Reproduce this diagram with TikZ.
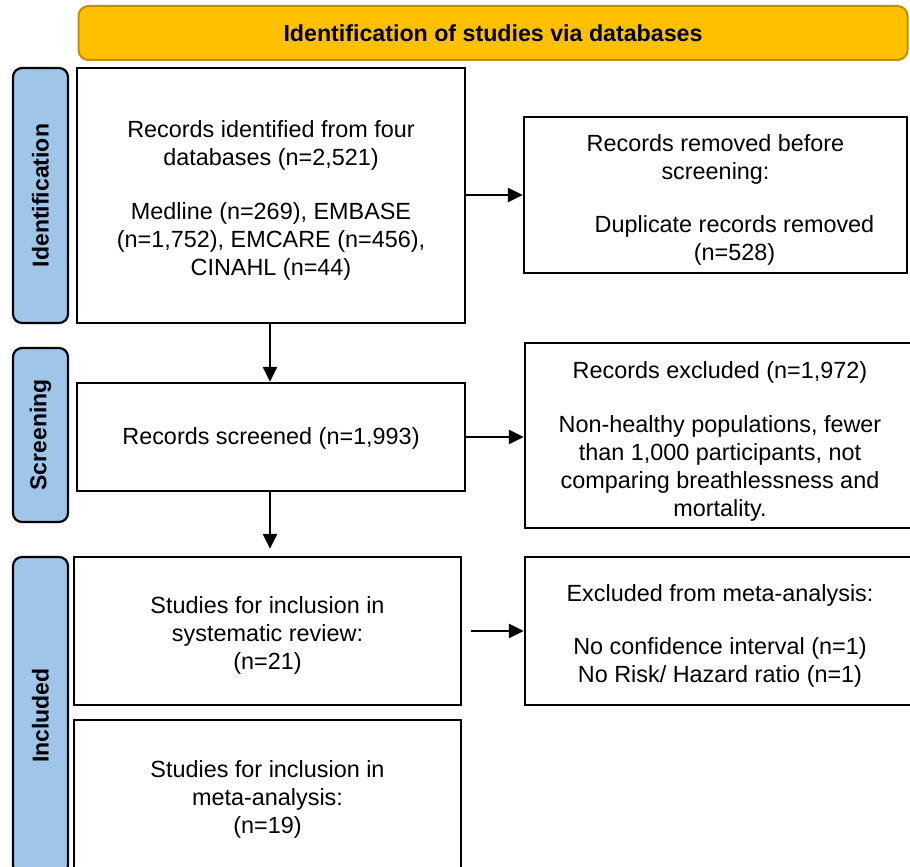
\documentclass[tikz,border=0pt]{standalone}
\usepackage{fontspec}
\setmainfont{Liberation Sans}
\usetikzlibrary{arrows.meta}
\definecolor{bannerfill}{HTML}{FFC000}
\definecolor{bannerline}{HTML}{BF8F00}
\definecolor{sidefill}{HTML}{9FC5E8}
\tikzset{
  box/.style={draw=black, line width=2.4pt, fill=white, inner sep=0pt},
  txt/.style={align=center, inner sep=0pt, font=\fontsize{23.4}{28}\selectfont},
  side/.style={draw=black, line width=2.2pt, fill=sidefill, rounded corners=9pt, rotate=90,
    inner sep=0pt, font=\bfseries\fontsize{23}{28}\selectfont},
  banner/.style={draw=bannerline, line width=2pt, fill=bannerfill, rounded corners=10pt,
    inner sep=0pt, font=\bfseries\fontsize{23.2}{28}\selectfont},
  flow/.style={line width=2.6pt, -{Triangle[length=15pt,width=14pt]}}
}
\begin{document}
\begin{tikzpicture}[x=1pt,y=-1pt]
\useasboundingbox (0,0) rectangle (910,867);
\clip (0,0) rectangle (910,867);
\fill[white] (0,0) rectangle (910,867);
% banner
\node[banner, minimum width=829pt, minimum height=54pt] (ban) at (493,33) {Identification of studies via databases};
% side labels
\node[side, minimum width=255pt, minimum height=55pt] (sid) at (40.5,195.5) {Identification};
\node[side, minimum width=174pt, minimum height=55pt] (ssc) at (40.5,435) {Screening};
\node[side, minimum width=317pt, minimum height=55pt] (sin) at (40.5,715.5) {Included};
% main boxes
\node[box, minimum width=388pt, minimum height=255pt] (b1) at (271,195.5) {};
\node[txt] (b1t) at ([yshift=-5pt]b1.center)
  {Records identified from four\\databases (n=2,521)\\[26pt]Medline (n=269), EMBASE\\(n=1,752), EMCARE (n=456),\\CINAHL (n=44)};
\node[box, minimum width=383pt, minimum height=156pt] (rem) at (715.5,195) {};
\node[txt] (remt) at ([yshift=-5pt]rem.center)
  {Records removed before\\screening:\\[25pt]\hspace*{38pt}Duplicate records removed\\\hspace*{38pt}(n=528)};
\node[box, minimum width=388pt, minimum height=108pt] (scr) at (271,437) {};
\node[txt] (scrt) at ([yshift=-1pt]scr.center) {Records screened (n=1,993)};
\node[box, minimum width=390pt, minimum height=185pt] (exc) at (720,435.5) {};
\node[txt] (exct) at ([yshift=-6pt]exc.center)
  {Records excluded (n=1,972)\\[26pt]Non-healthy populations, fewer\\than 1,000 participants, not\\comparing breathlessness and\\mortality.};
\node[box, minimum width=387pt, minimum height=148pt] (rev) at (267.5,631) {};
\node[txt] (revt) at ([yshift=-4pt]rev.center)
  {Studies for inclusion in\\systematic review:\\(n=21)};
\node[box, minimum width=390pt, minimum height=148pt] (exm) at (720,631) {};
\node[txt] (exmt) at ([yshift=-5pt]exm.center)
  {Excluded from meta-analysis:\\[25pt]No confidence interval (n=1)\\No Risk/ Hazard ratio (n=1)};
\node[box, minimum width=387pt, minimum height=154pt] (met) at (267.5,797) {};
\node[txt] (mett) at ([yshift=-2pt]met.center)
  {Studies for inclusion in\\meta-analysis:\\(n=19)};
% arrows
\draw[flow] (b1.east |- rem.west) -- (rem.west);
\draw[flow] (b1.south -| 270,0) -- (scr.north -| 270,0);
\draw[flow] (scr.east) -- (scr.east -| exc.west);
\draw[flow] (scr.south -| 270,0) -- ([yshift=7pt]rev.north -| 270,0);
\draw[flow] ([xshift=9pt]rev.east) -- (rev.east -| exm.west);
\end{tikzpicture}
\end{document}
